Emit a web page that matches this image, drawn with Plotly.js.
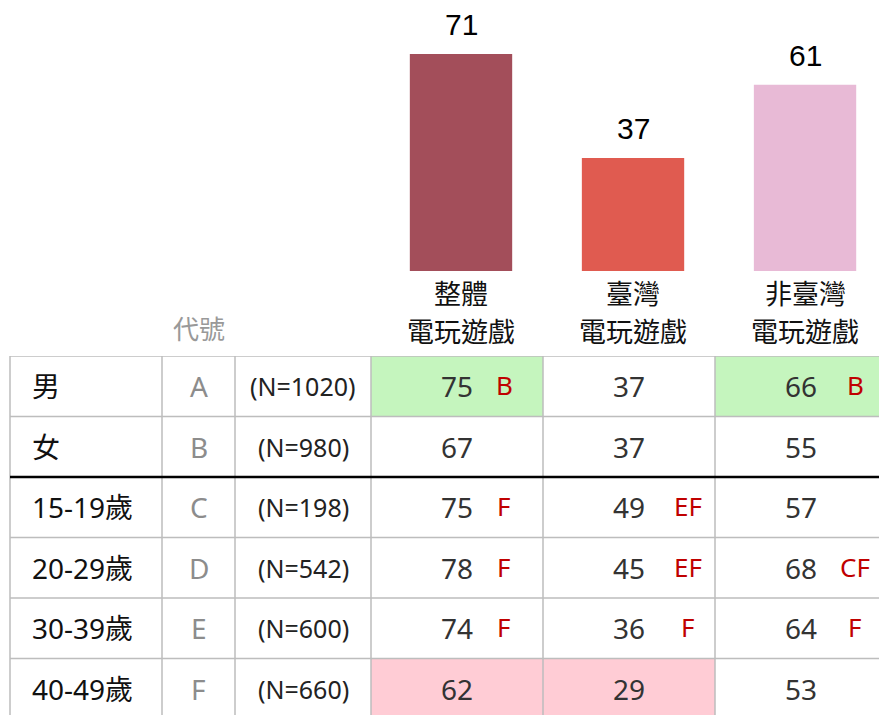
<!DOCTYPE html>
<html>
<head>
<meta charset="utf-8">
<script src="https://cdn.plot.ly/plotly-3.0.1.min.js"></script>
<style>
body { margin: 0; background: #fff; }
#chart { width: 879px; height: 715px; }
</style>
</head>
<body>
<div id="chart"></div>
<script>
// bar chart: overall share per game type
var categories = ['整體電玩遊戲', '臺灣電玩遊戲', '非臺灣電玩遊戲'];
var catLine1 = ['整體', '臺灣', '非臺灣'];
var catLine2 = ['電玩遊戲', '電玩遊戲', '電玩遊戲'];
var overall = [71, 37, 61];
var barColors = ['#a34e5a', '#e05b50', '#e8bad6'];

// table rows
var groupNames = ['男', '女', '15-19歲', '20-29歲', '30-39歲', '40-49歲'];
var groupCodes = ['A', 'B', 'C', 'D', 'E', 'F'];
var groupN = ['(N=1020)', '(N=980)', '(N=198)', '(N=542)', '(N=600)', '(N=660)'];
var colTotal = [75, 67, 75, 78, 74, 62];
var colTaiwan = [37, 37, 49, 45, 36, 29];
var colForeign = [66, 55, 57, 68, 64, 53];
var sigTotal = ['B', '', 'F', 'F', 'F', ''];
var sigTaiwan = ['', '', 'EF', 'EF', 'F', ''];
var sigForeign = ['B', '', '', 'CF', 'F', ''];
// 1 = higher (green), -1 = lower (pink)
var markTotal = [1, null, null, null, null, -1];
var markTaiwan = [null, null, null, null, null, -1];
var markForeign = [1, null, null, null, null, null];

var valueCols = [colTotal, colTaiwan, colForeign];
var sigCols = [sigTotal, sigTaiwan, sigForeign];
var markCols = [markTotal, markTaiwan, markForeign];

// table layout (x2 in pixels, y2 in rows)
var colEdges = [10, 162, 235, 371, 543, 715, 887];
var sigX = [504, 688, 855];
var nameX = 30;

var cjk = "'Noto Sans', 'Noto Sans CJK TC', sans-serif";

var barTrace = {
    type: 'bar',
    x: categories,
    y: overall,
    marker: { color: barColors },
    width: 0.595,
    hoverinfo: 'skip',
    xaxis: 'x',
    yaxis: 'y'
};

var rowEdges = [];
for (var r = 0; r <= groupNames.length; r++) rowEdges.push(r - 0.5);
var z = groupNames.map(function (g, i) {
    return markCols.map(function (col) { return col[i]; });
});
var cellFill = {
    type: 'heatmap',
    x: colEdges.slice(3),
    y: rowEdges,
    z: z,
    zmin: -1,
    zmax: 1,
    colorscale: [[0, '#ffccd5'], [0.5, '#ffccd5'], [0.5, '#c5f5be'], [1, '#c5f5be']],
    showscale: false,
    hoverinfo: 'skip',
    xaxis: 'x2',
    yaxis: 'y2'
};

var annotations = [];
overall.forEach(function (v, i) {
    annotations.push({
        x: categories[i], y: v, xref: 'x', yref: 'y',
        text: String(v), showarrow: false, yanchor: 'bottom', yshift: 11,
        font: { family: 'Liberation Sans, Arial, sans-serif', size: 30, color: '#000' }
    });
    annotations.push({
        x: categories[i], y: 0, xref: 'x', yref: 'y',
        text: catLine1[i], showarrow: false, yanchor: 'middle', yshift: -22,
        font: { family: cjk, size: 27, color: '#111' }
    });
    annotations.push({
        x: categories[i], y: 0, xref: 'x', yref: 'y',
        text: catLine2[i], showarrow: false, yanchor: 'middle', yshift: -60,
        font: { family: cjk, size: 27, color: '#111' }
    });
});
annotations.push({
    x: (colEdges[1] + colEdges[2]) / 2, y: 0, xref: 'x2', yref: 'y',
    text: '代號', showarrow: false, yanchor: 'middle', yshift: -58,
    font: { family: cjk, size: 26, color: '#999' }
});

groupNames.forEach(function (g, i) {
    annotations.push({
        x: nameX, y: i, xref: 'x2', yref: 'y2', xanchor: 'left',
        text: g, showarrow: false,
        font: { family: cjk, size: 28, color: '#111' }
    });
    annotations.push({
        x: (colEdges[1] + colEdges[2]) / 2, y: i, xref: 'x2', yref: 'y2',
        text: groupCodes[i], showarrow: false,
        font: { family: cjk, size: 28, color: '#8c8c8c' }
    });
    annotations.push({
        x: (colEdges[2] + colEdges[3]) / 2, y: i, xref: 'x2', yref: 'y2',
        text: groupN[i], showarrow: false,
        font: { family: cjk, size: 25, color: '#222' }
    });
    valueCols.forEach(function (col, c) {
        annotations.push({
            x: (colEdges[3 + c] + colEdges[4 + c]) / 2, y: i, xref: 'x2', yref: 'y2',
            text: String(col[i]), showarrow: false,
            font: { family: cjk, size: 28, color: '#333' }
        });
        if (sigCols[c][i]) {
            annotations.push({
                x: sigX[c], y: i, xref: 'x2', yref: 'y2',
                text: sigCols[c][i], showarrow: false, yshift: 1,
                font: { family: cjk, size: 26, color: '#c00000' }
            });
        }
    });
});

var shapes = [];
for (var k = 0; k < 6; k++) {
    shapes.push({
        type: 'line', xref: 'x2', yref: 'y2', layer: 'above',
        x0: colEdges[k], x1: colEdges[k], y0: -0.5, y1: 5.5,
        line: { color: '#bdbdbd', width: 1.5 }
    });
}
for (var h = 0; h < 6; h++) {
    var thick = (h === 2);
    shapes.push({
        type: 'line', xref: 'x2', yref: 'y2', layer: 'above',
        x0: colEdges[0], x1: 879, y0: rowEdges[h], y1: rowEdges[h],
        line: { color: thick ? '#000' : '#bdbdbd', width: thick ? 2.5 : 1.5 }
    });
}

var layout = {
    width: 879,
    height: 715,
    margin: { l: 0, r: 0, t: 0, b: 0 },
    paper_bgcolor: '#fff',
    plot_bgcolor: 'rgba(0,0,0,0)',
    showlegend: false,
    hovermode: false,
    xaxis: { domain: [375 / 879, 1], range: [-0.5, 2.43], visible: false, anchor: 'y' },
    yaxis: { domain: [444 / 715, 1], range: [0, 88.7], visible: false, anchor: 'x' },
    xaxis2: { domain: [0, 1], range: [0, 879], visible: false, anchor: 'y2' },
    yaxis2: { domain: [0, 359 / 715], range: [5.434, -0.5], visible: false, anchor: 'x2' },
    annotations: annotations,
    shapes: shapes
};

Plotly.newPlot('chart', [cellFill, barTrace], layout, { staticPlot: true, displayModeBar: false });
</script>
</body>
</html>
